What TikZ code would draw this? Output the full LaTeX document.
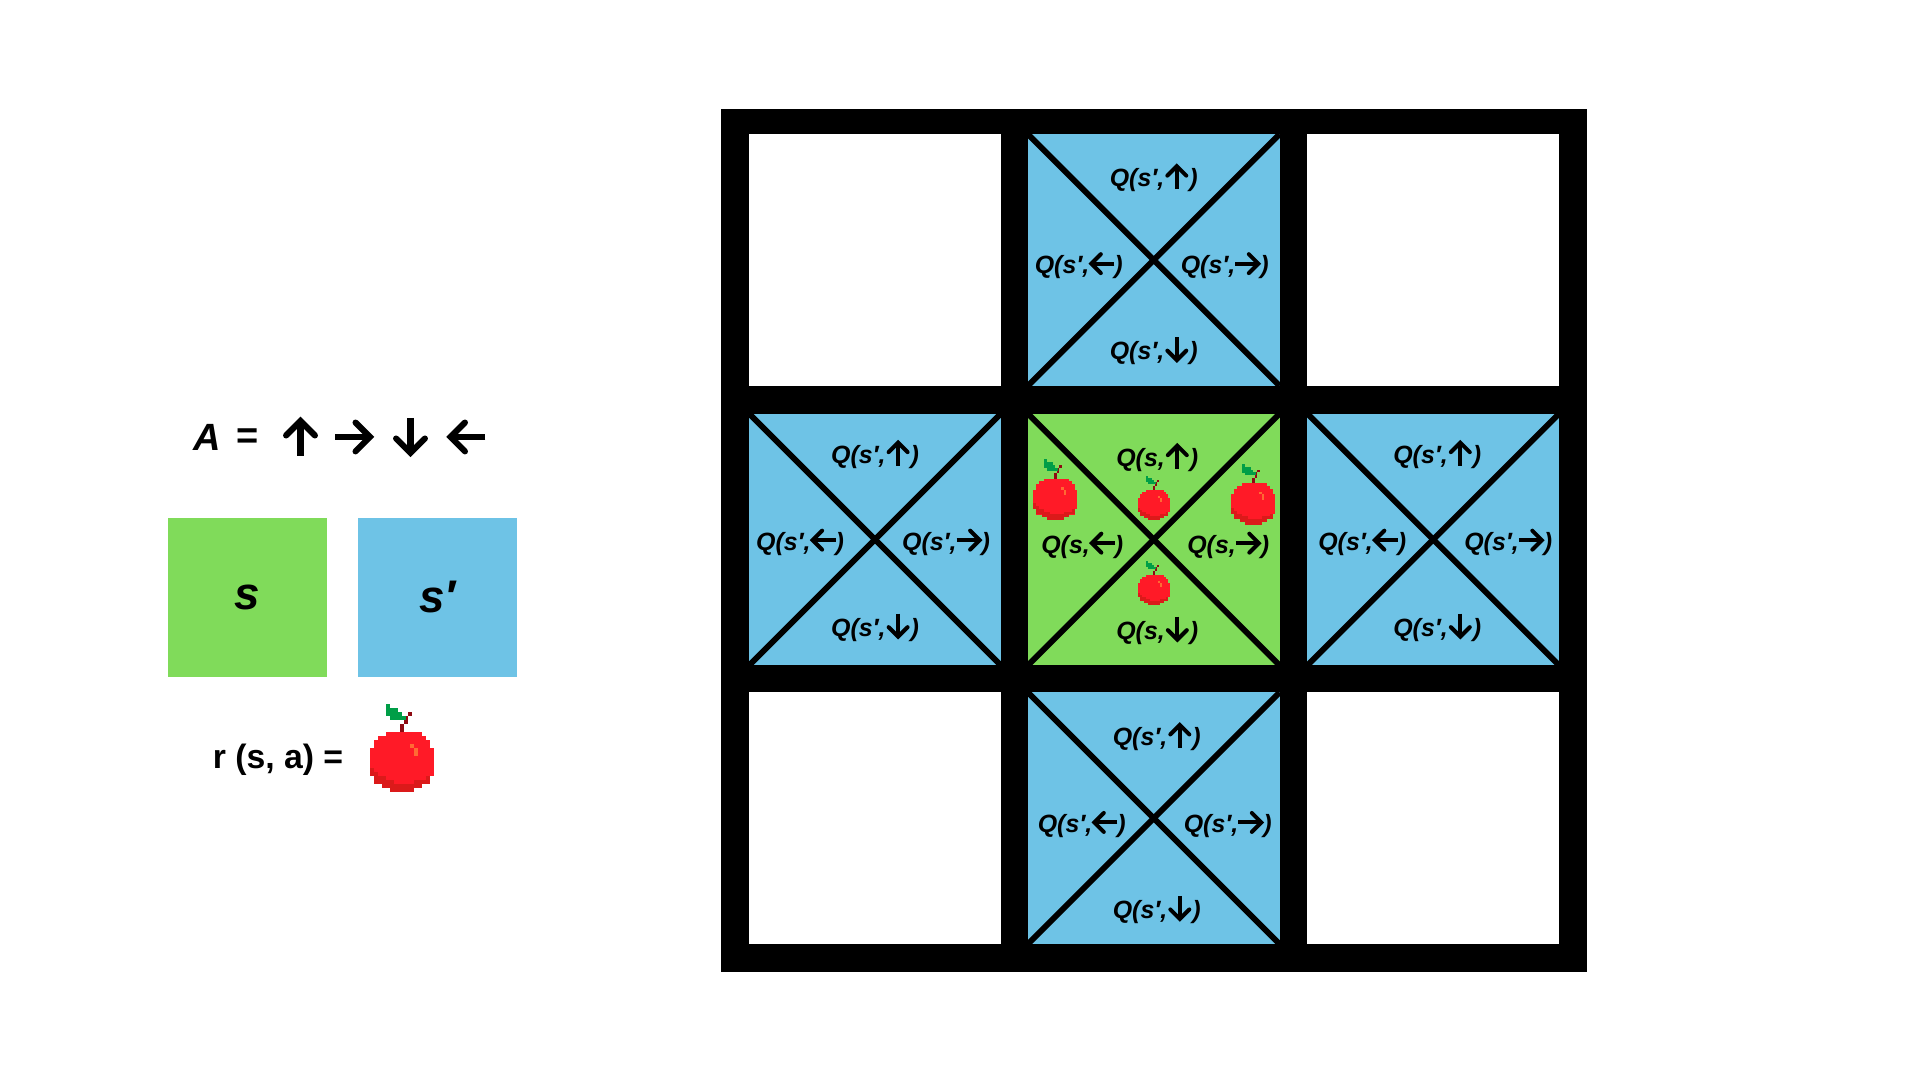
\documentclass[tikz,border=0pt]{standalone}
\usepackage{xcolor}
\usepackage{fontspec}
\setmainfont{Liberation Sans}
\usepackage{tikz}
\usetikzlibrary{positioning}
\definecolor{statefill}{HTML}{80DB5A}
\definecolor{nextfill}{HTML}{6EC3E6}
\definecolor{applered}{HTML}{FF1A27}
\definecolor{appledark}{HTML}{DB1A1A}
\definecolor{appleglow}{HTML}{FF6A33}
\definecolor{appleleaf}{HTML}{009E47}
\definecolor{applestem}{HTML}{8E0A12}
% action arrow, sized in em so that it follows the font of its node
\newcommand{\actarrow}[1]{\tikz[baseline={(0,-.4em)}, x=1em, y=1em, line width=.16em]{
    \useasboundingbox (-.5,-.5) rectangle (.5,.5);
    \begin{scope}[rotate=#1]
      \draw (-.5,0) -- (.42,0);
      \draw[line cap=round, line join=miter] (.04,.38) -- (.42,0) -- (.04,-.38);
    \end{scope}
  }}
\tikzset{
  gridframe/.style={fill=black, minimum width=8.655cm, minimum height=8.628cm,
                    inner sep=0pt, outer sep=0pt},
  gridcell/.style={minimum size=2.515cm, inner sep=0pt, outer sep=0pt},
  freecell/.style={gridcell, fill=white},
  nextcell/.style={gridcell, fill=nextfill},
  statecell/.style={gridcell, fill=statefill},
  keybox/.style={minimum size=1.587cm, inner sep=0pt, outer sep=0pt,
                 font=\fontsize{13}{15}\selectfont\bfseries\itshape},
  cross/.style={line width=1.65pt, line cap=square},
  qlabel/.style={inner sep=0pt, font=\fontsize{7.1}{8}\selectfont\bfseries\itshape},
  keytext/.style={inner sep=0pt, font=\fontsize{10.8}{13}\selectfont\bfseries},
  appleicon/.pic={
    % body, row by row: row / first column / last column
    \foreach \r/\a/\b in {0/4/12,1/2/13,2/1/14,3/1/14,4/0/15,5/0/15,6/0/15,7/0/15,
                          8/0/15,9/0/15,10/0/15,11/1/14,12/1/14,13/3/12,14/5/10} {
      \fill[applered] ({\a-8},{\r-15}) rectangle ({\b-7},{\r-13.97});
    }
    % shade along the lower edge
    \foreach \r/\a/\b in {9/0/0,10/0/1,11/1/3,12/1/5,13/3/12,14/5/10,12/11/14,11/14/14} {
      \fill[appledark] ({\a-8},{\r-15}) rectangle ({\b-7},{\r-14});
    }
    \fill[appleglow] (2,-12) rectangle (3,-11);
    \fill[appleglow] (3,-11) rectangle (4,-9);
    % stem and leaf
    \fill[applestem] (-.5,-15) rectangle (.5,-17);
    \fill[applestem] (.5,-17) rectangle (1.5,-19);
    \fill[applestem] (1.5,-19) rectangle (2.5,-20);
    \foreach \r/\a/\b in {-7/4/4,-6/4/6,-5/4/7,-4/5/8} {
      \fill[appleleaf] ({\a-8},{\r-15}) rectangle ({\b-7},{\r-13.97});
    }
  }
}

\begin{document}
\begin{tikzpicture}[x=0.01cm, y=-0.01cm]
  \useasboundingbox (0,0) rectangle (1920,1080);

  % ===== Legend =====
  \node[keytext] (key-a) at (207,437) {\itshape A};
  \node[keytext] (key-eq) at (248,439) {=};
  \node[keytext] (key-up) at (300.5,437) {\actarrow{90}};
  \node[keytext] (key-right) at (354,437) {\actarrow{0}};
  \node[keytext] (key-down) at (410.5,437) {\actarrow{-90}};
  \node[keytext] (key-left) at (466.5,437) {\actarrow{180}};

  \node[keybox, fill=statefill] (key-s) at (247.3,597.5) {s};
  \node[keybox, fill=nextfill] (key-sp) at (437.3,597.5) {s′};

  \node[inner sep=0pt, font=\fontsize{9.6}{12}\selectfont\bfseries] (key-r) at (278,759.5) {r (s, a) =};
  \pic[scale=4] (apple-key) at (402,792) {appleicon};

  % ===== Grid =====
  \node[gridframe] (frame) at (1154.2,540.5) {};

  % top row
  \node[freecell] (cell-0-0) at (875,260) {};
  \node[nextcell] (cell-0-1) at (1153.7,260) {};
  \node[freecell] (cell-0-2) at (1433.2,260) {};
  % middle row
  \node[nextcell] (cell-1-0) at (875,539.5) {};
  \node[statecell] (cell-1-1) at (1153.7,539.5) {};
  \node[nextcell] (cell-1-2) at (1433.2,539.5) {};
  % bottom row
  \node[freecell] (cell-2-0) at (875,818.3) {};
  \node[nextcell] (cell-2-1) at (1153.7,818.3) {};
  \node[freecell] (cell-2-2) at (1433.2,818.3) {};

  % ===== Crosses and Q labels =====
  \foreach \cn/\st/\qx/\qy in {cell-0-1/s′/0/1, cell-1-0/s′/0/-2, cell-1-2/s′/4/-2,
                               cell-2-1/s′/3/1.5, cell-1-1/s/3.5/1} {
    \draw[cross] (\cn.north west) -- (\cn.south east);
    \draw[cross] (\cn.north east) -- (\cn.south west);
    \node[qlabel] (\cn-up) at ([shift={({\qx},{\qy-83})}]\cn) {Q(\st,\actarrow{90})};
    \node[qlabel] (\cn-left) at ([shift={({\qx-75},{\qy+4})}]\cn) {Q(\st,\actarrow{180})};
    \node[qlabel] (\cn-right) at ([shift={({\qx+71},{\qy+4})}]\cn) {Q(\st,\actarrow{0})};
    \node[qlabel] (\cn-down) at ([shift={({\qx},{\qy+90})}]\cn) {Q(\st,\actarrow{-90})};
  }

  % ===== Apples of the state cell =====
  \pic[scale=2.75] (apple-left) at (1055.3,520) {appleicon};
  \pic[scale=2.75] (apple-right) at (1253.3,524.7) {appleicon};
  \pic[scale=2] (apple-up) at (1153.7,520) {appleicon};
  \pic[scale=2] (apple-down) at (1153.7,605.3) {appleicon};

\end{tikzpicture}
\end{document}
